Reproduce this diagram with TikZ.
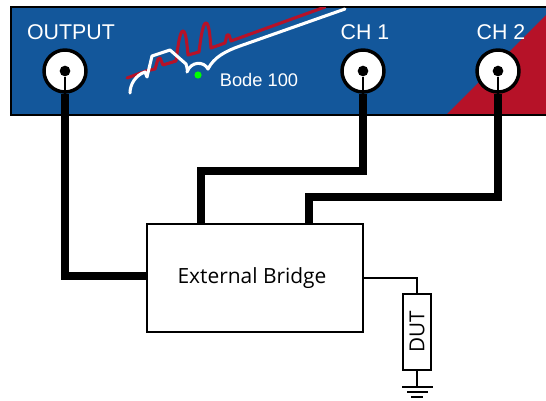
\documentclass[tikz,border=0pt]{standalone}
\usepackage{fontspec}
\setmainfont{Liberation Sans}
\newfontfamily\bridgefont{Open Sans}
\definecolor{panelblue}{RGB}{19,87,155}
\definecolor{panelred}{RGB}{182,18,40}
\tikzset{
  port/.style={circle,draw=black,line width=2.6pt,fill=white,minimum size=31.5pt,inner sep=0pt},
  pin/.style={circle,fill=black,minimum size=8pt,inner sep=0pt},
  wire/.style={draw=black,line width=5.6pt,miter limit=10},
  thinwire/.style={draw=black,line width=1.6pt},
  box/.style={draw=black,line width=1.5pt,fill=white,inner sep=0pt},
  paneltext/.style={text=white,font=\fontsize{16}{16}\selectfont,inner sep=0pt},
  trace/.style={line width=2.3pt,line join=round,line cap=round}
}
\begin{document}
\begin{tikzpicture}[x=0.75pt,y=-0.75pt]
\useasboundingbox (0,0) rectangle (546,400);
% panel
\fill[panelblue] (11,7) rectangle (546,115);
\fill[panelred] (446,115) -- (546,15) -- (546,115) -- cycle;
\draw[black,line width=1.7pt] (546,7) -- (11,7) -- (11,115) -- (546,115);
% traces
\begin{scope}
\clip (11,7) rectangle (546,115);
\draw[panelred,trace] (127,78) -- (146,71) -- (155,69) -- (158,59) -- (160,58) -- (163,65) -- (176,61)
  .. controls (178,45) and (180,31) .. (183,31) .. controls (186,31) and (187,45) .. (188,55) -- (199,52)
  .. controls (201,36) and (203,23) .. (206,23) .. controls (209,23) and (210,36) .. (211,48) -- (225,43)
  -- (227,35) -- (229,35) -- (231,41) -- (325,7);
\draw[white,trace] (130,93) .. controls (130,84) and (136,75) .. (145,72) -- (147,77)
  -- (152,56) -- (170,50) -- (186,64) .. controls (187,68) and (188,71) .. (187,72)
  .. controls (191,61) and (204,61) .. (208,69)
  .. controls (214,57) and (226,51) .. (240,46) -- (345,9);
\end{scope}
\fill[green] (198,75) circle (3.6);
% labels
\node[paneltext,font=\fontsize{13.7}{14}\selectfont] (bode) at (259,80) {Bode 100};
\node[paneltext] (outlabel) at (71,32) {OUTPUT};
\node[paneltext] (ch1label) at (365,32) {CH 1};
\node[paneltext] (ch2label) at (501,32) {CH 2};
% boxes
\node[box,minimum width=162pt,minimum height=81pt,font=\bridgefont\fontsize{15.7}{16}\selectfont] (bridge) at (255,278) {External Bridge\kern4.5pt};
\node[box,minimum width=21pt,minimum height=57pt] (dut) at (417,332) {\rotatebox{90}{\fontsize{15.5}{16}\selectfont\bridgefont DUT}};
% ports
\node[port] (output) at (65,71) {};
\node[port] (ch1) at (363,71) {};
\node[port] (ch2) at (498,71) {};
\node[pin] (outpin) at (65,71) {};
\node[pin] (ch1pin) at (363,71) {};
\node[pin] (ch2pin) at (498,71) {};
\draw[thinwire] (outpin) -- (output.south);
\draw[thinwire] (ch1pin) -- (ch1.south);
\draw[thinwire] (ch2pin) -- (ch2.south);
% thick wires
\draw[wire] (output.south) |- (bridge.west |- 0,276);
\draw[wire] (ch1.south) |- (201,171) -- (bridge.north -| 201,0);
\draw[wire] (ch2.south) |- (309,197) -- (bridge.north -| 309,0);
% DUT wiring
\coordinate (gnd) at (417,387);
\draw[thinwire] (bridge.east) -- (bridge.east -| dut.north) -- (dut.north);
\draw[thinwire] (dut.south) -- (gnd);
\draw[thinwire] (402,387) -- (433,387);
\draw[thinwire] (407,392) -- (428,392);
\draw[thinwire] (411,397) -- (423,397);
\end{tikzpicture}
\end{document}
